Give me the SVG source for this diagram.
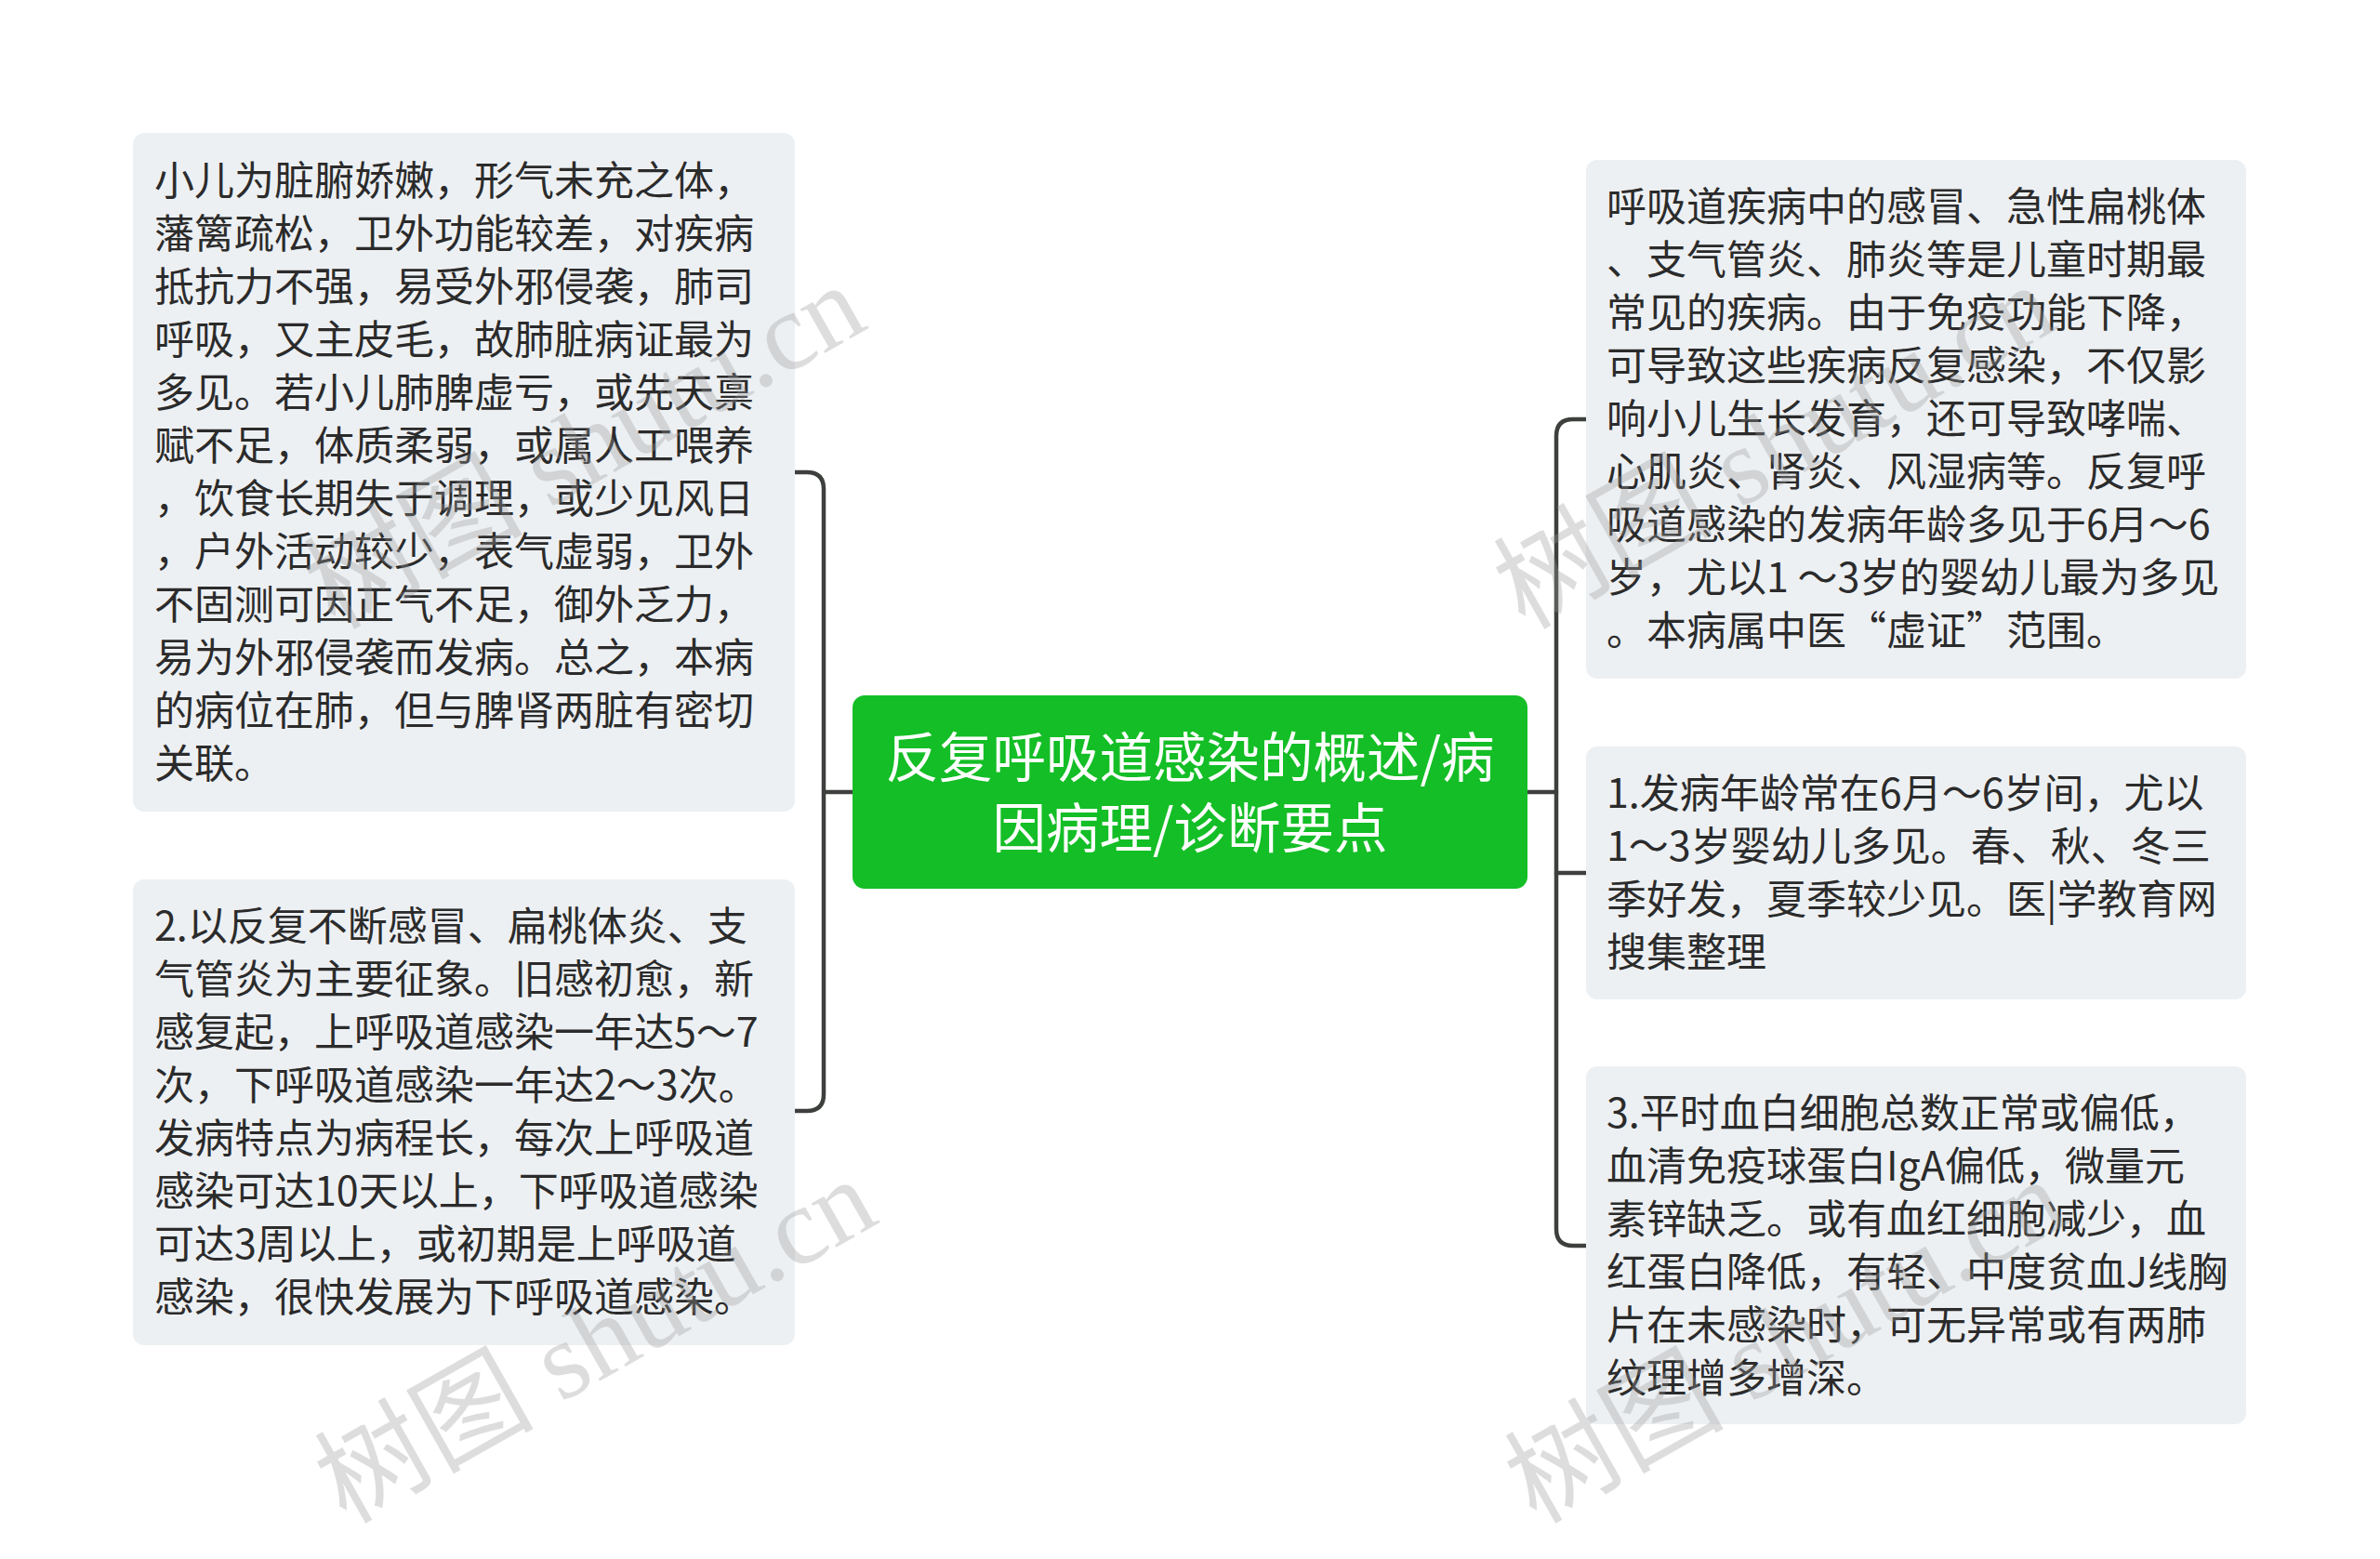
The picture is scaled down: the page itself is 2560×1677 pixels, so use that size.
<svg xmlns="http://www.w3.org/2000/svg" width="2560" height="1677" viewBox="0 0 2560 1677">
<style>
.box{fill:#edf0f3}
.txt{font-family:"Noto Sans CJK SC","Noto Sans",sans-serif;font-size:43px;fill:#2b2b2b}
.ctxt{font-family:"Noto Sans CJK SC","Noto Sans",sans-serif;font-size:57.5px;fill:#ffffff}
.conn{fill:none;stroke:#3d403d;stroke-width:4.5;stroke-linecap:round}
.wm{font-family:"Liberation Serif","Noto Sans CJK SC",serif;font-size:118px;fill:#9a9a9a;opacity:0.33}
</style>
<rect width="2560" height="1677" fill="#ffffff"/>
<g id="connectors">
<path class="conn" d="M886,852 H917"/>
<path class="conn" d="M855,508 H868 Q886,508 886,526 V1177 Q886,1195 868,1195 H855"/>
<path class="conn" d="M1643,852 H1674"/>
<path class="conn" d="M1706,451 H1692 Q1674,451 1674,469 V1322 Q1674,1340 1692,1340 H1706"/>
<path class="conn" d="M1674,939 H1706"/>
</g>
<g id="center">
<rect x="917" y="748" width="726" height="208" rx="13" fill="#14be26"/>
<text class="ctxt" text-anchor="middle"><tspan x="1280" y="836">反复呼吸道感染的概述/病</tspan><tspan x="1280" y="912">因病理/诊断要点</tspan></text>
</g>
<g id="left1">
<rect class="box" x="143" y="143" width="712" height="730" rx="12"/>
<text class="txt"><tspan x="166" y="210">小儿为脏腑娇嫩，形气未充之体，</tspan><tspan x="166" dy="57">藩篱疏松，卫外功能较差，对疾病</tspan><tspan x="166" dy="57">抵抗力不强，易受外邪侵袭，肺司</tspan><tspan x="166" dy="57">呼吸，又主皮毛，故肺脏病证最为</tspan><tspan x="166" dy="57">多见。若小儿肺脾虚亏，或先天禀</tspan><tspan x="166" dy="57">赋不足，体质柔弱，或属人工喂养</tspan><tspan x="166" dy="57">，饮食长期失于调理，或少见风日</tspan><tspan x="166" dy="57">，户外活动较少，表气虚弱，卫外</tspan><tspan x="166" dy="57">不固测可因正气不足，御外乏力，</tspan><tspan x="166" dy="57">易为外邪侵袭而发病。总之，本病</tspan><tspan x="166" dy="57">的病位在肺，但与脾肾两脏有密切</tspan><tspan x="166" dy="57">关联。</tspan></text>
</g>
<g id="left2">
<rect class="box" x="143" y="946" width="712" height="501" rx="12"/>
<text class="txt"><tspan x="166" y="1012">2.以反复不断感冒、扁桃体炎、支</tspan><tspan x="166" dy="57">气管炎为主要征象。旧感初愈，新</tspan><tspan x="166" dy="57">感复起，上呼吸道感染一年达5～7</tspan><tspan x="166" dy="57">次，下呼吸道感染一年达2～3次。</tspan><tspan x="166" dy="57">发病特点为病程长，每次上呼吸道</tspan><tspan x="166" dy="57">感染可达10天以上，下呼吸道感染</tspan><tspan x="166" dy="57">可达3周以上，或初期是上呼吸道</tspan><tspan x="166" dy="57">感染，很快发展为下呼吸道感染。</tspan></text>
</g>
<g id="right1">
<rect class="box" x="1706" y="172" width="710" height="558" rx="12"/>
<text class="txt"><tspan x="1728" y="238">呼吸道疾病中的感冒、急性扁桃体</tspan><tspan x="1728" dy="57">、支气管炎、肺炎等是儿童时期最</tspan><tspan x="1728" dy="57">常见的疾病。由于免疫功能下降，</tspan><tspan x="1728" dy="57">可导致这些疾病反复感染，不仅影</tspan><tspan x="1728" dy="57">响小儿生长发育，还可导致哮喘、</tspan><tspan x="1728" dy="57">心肌炎、肾炎、风湿病等。反复呼</tspan><tspan x="1728" dy="57">吸道感染的发病年龄多见于6月～6</tspan><tspan x="1728" dy="57">岁，尤以1 ～3岁的婴幼儿最为多见</tspan><tspan x="1728" dy="57">。本病属中医“虚证”范围。</tspan></text>
</g>
<g id="right2">
<rect class="box" x="1706" y="803" width="710" height="272" rx="12"/>
<text class="txt"><tspan x="1728" y="869">1.发病年龄常在6月～6岁间，尤以</tspan><tspan x="1728" dy="57">1～3岁婴幼儿多见。春、秋、冬三</tspan><tspan x="1728" dy="57">季好发，夏季较少见。医|学教育网</tspan><tspan x="1728" dy="57">搜集整理</tspan></text>
</g>
<g id="right3">
<rect class="box" x="1706" y="1147" width="710" height="385" rx="12"/>
<text class="txt"><tspan x="1728" y="1213">3.平时血白细胞总数正常或偏低，</tspan><tspan x="1728" dy="57">血清免疫球蛋白IgA偏低，微量元</tspan><tspan x="1728" dy="57">素锌缺乏。或有血红细胞减少，血</tspan><tspan x="1728" dy="57">红蛋白降低，有轻、中度贫血J线胸</tspan><tspan x="1728" dy="57">片在未感染时，可无异常或有两肺</tspan><tspan x="1728" dy="57">纹理增多增深。</tspan></text>
</g>
<g id="watermarks">
<text class="wm" x="360" y="678" transform="rotate(-29.5 360 678)">树图 shutu.cn</text>
<text class="wm" x="1640" y="678" transform="rotate(-29.5 1640 678)">树图 shutu.cn</text>
<text class="wm" x="372" y="1640" transform="rotate(-29.5 372 1640)">树图 shutu.cn</text>
<text class="wm" x="1652" y="1640" transform="rotate(-29.5 1652 1640)">树图 shutu.cn</text>
</g>
</svg>
